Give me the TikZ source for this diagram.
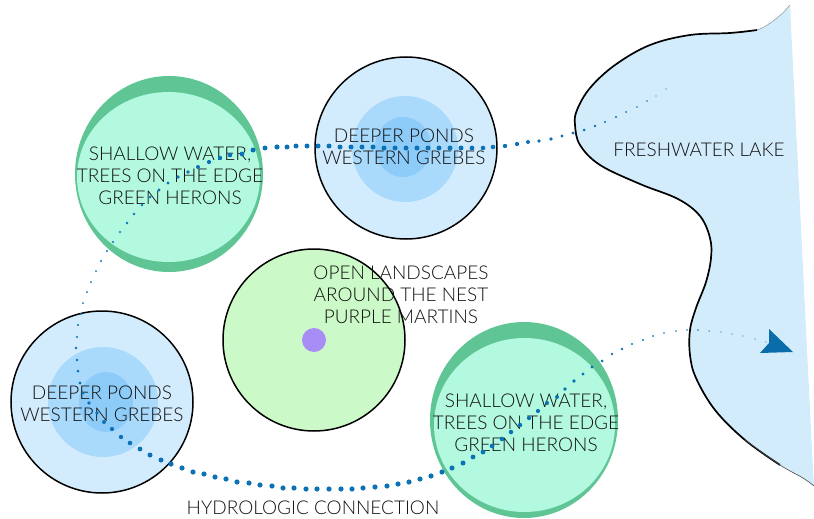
\documentclass[tikz,border=0pt]{standalone}
\usepackage{fontspec}
\setmainfont{Lato}[UprightFont={* Light}]
\definecolor{gdark}{HTML}{5FC595}
\definecolor{glight}{HTML}{B2F9DF}
\definecolor{gopen}{HTML}{CCF9C8}
\definecolor{purp}{HTML}{A98DF7}
\definecolor{bout}{HTML}{D2ECFD}
\definecolor{bmid}{HTML}{A9DAFB}
\definecolor{binn}{HTML}{8DCBF9}
\definecolor{lake}{HTML}{D2ECFC}
\definecolor{dotblue}{HTML}{0B72B5}
\definecolor{arrblue}{HTML}{0A6DAA}
\definecolor{txt}{HTML}{111111}
\tikzset{
  lbl/.style={align=center, inner sep=0pt, text=txt, font=\fontsize{19}{22}\selectfont},
  rim/.style={draw=black, line width=1.5pt},
  hdot/.style={fill=dotblue}
}
\begin{document}
\begin{tikzpicture}[x=1pt,y=-1pt]
\useasboundingbox (0,0) rectangle (814,519);
% lake
\fill[lake] plot[smooth, tension=0.6] coordinates {(790,5) (777,18) (757,30) (730,33) (690,35) (650,45) (615,65) (590,88) (577,110) (575,125) (580,145) (600,165) (640,184) (678,199) (700,216) (710,238) (711,258) (706,282) (696,308) (690,330) (690,355) (696,378) (715,410) (745,440) (780,465) (803,478)} -- (814,486) -- (813,470) -- cycle;
\draw[line width=0.4pt, black!50] plot[smooth, tension=0.6] coordinates {(790,5) (777,18) (757,30) (730,33)};
\draw[line width=1.7pt] plot[smooth, tension=0.6] coordinates {(757,30) (730,33) (690,35) (650,45) (615,65) (590,88) (577,110) (575,125) (580,145) (600,165) (640,184) (678,199) (700,216) (710,238) (711,258) (706,282) (696,308) (690,330) (690,355) (696,378) (715,410) (745,440) (780,465)};
\draw[line width=0.6pt, black!70] plot[smooth, tension=0.6] coordinates {(745,440) (780,465) (803,478) (814,486)};
% top-left green circle
\fill[gdark] (169,174) ellipse[x radius=94, y radius=98];
\fill[glight] (168.5,177) ellipse[x radius=91.5, y radius=85];
% top blue circle
\filldraw[fill=bout, rim] (406,148) circle[radius=91];
\fill[bmid] (405,149) circle[radius=53];
\fill[binn] (403,147) ellipse[x radius=28, y radius=30];
% bottom-left blue circle
\filldraw[fill=bout, rim] (102,402) circle[radius=91];
\fill[bmid] (103,402) circle[radius=55];
\fill[binn] (106,402) ellipse[x radius=27, y radius=30];
% open landscape circle
\filldraw[fill=gopen, rim] (314,340) circle[radius=91];
\fill[purp] (314,340) circle[radius=12];
% bottom-right green circle
\fill[gdark] (524,420) ellipse[x radius=94, y radius=98];
\fill[glight] (524.5,425) ellipse[x radius=90.5, y radius=87];
% labels
\node[lbl] (tl) at (170,176) {SHALLOW WATER,\\TREES ON THE EDGE\\GREEN HERONS};
\node[lbl] (tc) at (404,147) {DEEPER PONDS\\WESTERN GREBES};
\node[lbl] (bl) at (102,404) {DEEPER PONDS\\WESTERN GREBES};
\node[lbl] (mo) at (401,295) {OPEN LANDSCAPES\\AROUND THE NEST\\PURPLE MARTINS};
\node[lbl] (br) at (526,423) {SHALLOW WATER,\\TREES ON THE EDGE\\GREEN HERONS};
\node[lbl] (lk) at (699,150) {FRESHWATER LAKE};
\node[lbl] (hc) at (313,508) {HYDROLOGIC CONNECTION};
% hydrologic connection dots
\foreach \x/\y/\r in {666/89/0.6, 656/96/0.7, 647/101/0.8, 637/107/0.9, 626/112/1.0, 616/117/1.1, 605/122/1.2, 595/126/1.35, 584/130/1.5, 573/133/1.6, 562/136/1.7, 551/139/1.8, 539/141/1.9, 528/142/2.0, 517/144/2.1, 505/146/2.2, 493/147/2.3, 483/148/2.3,
 472/148/2.4, 461/148/2.5, 450/148/2.5, 439/148/2.5, 428/148/2.5, 417/148/2.5, 406/148/2.5, 395/148/2.5, 384/148/2.5, 373/147/2.5, 362/147/2.5, 351/147/2.5, 340/147/2.5, 329/146/2.5, 318/146/2.5, 307/146/2.5, 296/146/2.5, 287/147/2.5,
 277/147/2.6, 265/148/2.5, 253/150/2.5, 242/154/2.4, 230/155/2.3, 220/158/2.2, 209/162/2.1, 198/167/2.0, 188/172/1.9, 178/177/1.8, 168/183/1.7, 159/190/1.6, 150/197/1.5, 142/205/1.4, 134/214/1.35, 127/223/1.3, 120/232/1.2, 113/242/1.15, 107/251/1.1, 101/261/1.05, 96/271/1.0, 91/282/1.0, 87/292/1.0, 83/303/1.0,
 81/314/1.05, 78/325/1.1, 77/337/1.2, 76/348/1.3, 77/360/1.4, 78/371/1.5, 80/383/1.6, 83/393/1.7, 89/403/1.8, 97/413/1.9, 104/422/2.0, 112/429/2.1, 121/437/2.2, 130/443/2.3, 140/449/2.4, 150/455/2.5, 161/460/2.5, 171/464/2.6, 182/468/2.6, 193/472/2.6, 204/474/2.6, 215/477/2.6, 226/479/2.6,
 237/482/2.6, 249/483/2.6, 260/485/2.6, 272/486/2.6, 283/488/2.6, 294/488/2.6, 306/489/2.6, 317/489/2.6, 329/489/2.6, 341/489/2.6, 352/489/2.6, 363/488/2.6, 375/487/2.6, 387/486/2.6, 398/484/2.6, 409/482/2.6, 420/479/2.6, 431/476/2.6,
 442/472/2.6, 452/468/2.55, 463/463/2.5, 473/457/2.45, 483/452/2.4, 492/446/2.35, 502/439/2.3, 511/432/2.25, 520/425/2.2, 529/418/2.15, 538/411/2.1, 547/403/2.05, 557/397/2.0, 565/389/1.9, 574/381/1.8, 583/374/1.7, 592/367/1.6, 602/361/1.5, 612/354/1.4, 622/349/1.3, 632/344/1.2, 643/340/1.1,
 653/336/1.0, 664/333/0.95, 676/331/0.9, 687/330/0.85, 698/330/0.8, 709/331/0.75, 721/332/0.7, 732/334/0.7, 743/336/0.65, 755/339/0.6, 766/342/0.6}
  \fill[hdot] (\x,\y) circle[radius=\r];
% arrowhead
\fill[arrblue] (793,352) -- (769,329) -- (769,343) -- (760,353) -- cycle;
\end{tikzpicture}
\end{document}
